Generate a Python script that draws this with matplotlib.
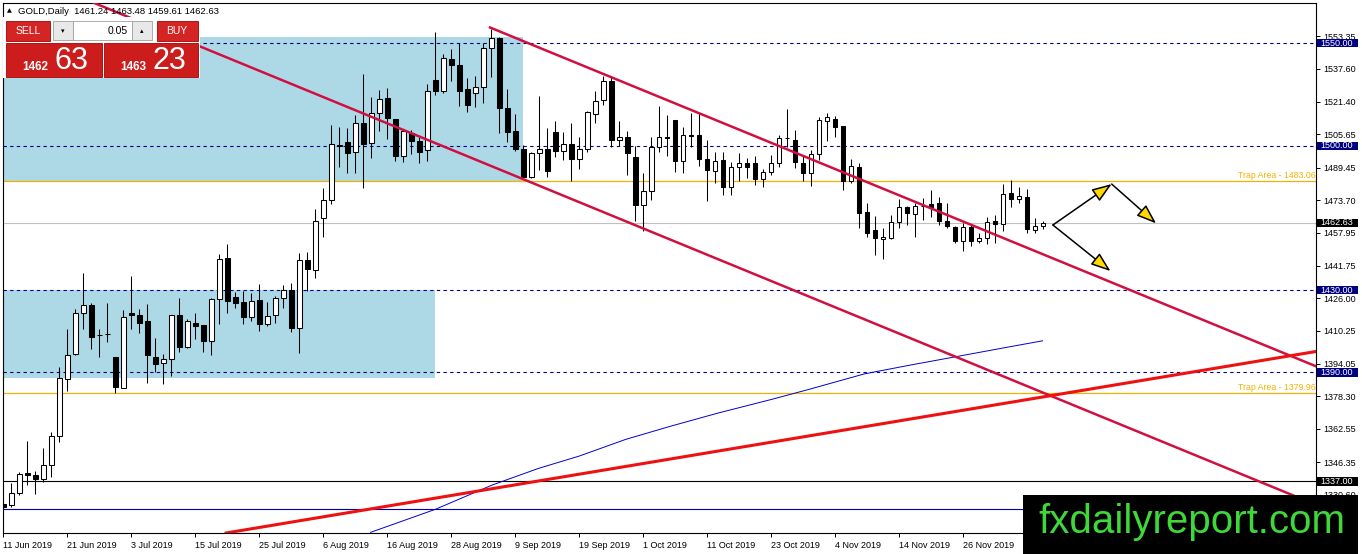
import numpy as np
import matplotlib
matplotlib.use("Agg")
import matplotlib.pyplot as plt
from matplotlib.patches import Rectangle

plt.rcParams['font.family'] = ['Liberation Sans', 'DejaVu Sans']

# GOLD daily candles, 11 Jun 2019 .. 10 Dec 2019
opens = [1325.8, 1325.5, 1331.3, 1341.0, 1340.0, 1338.1, 1344.9, 1359.0, 1386.7, 1398.9,
         1418.8, 1422.7, 1408.1, 1408.6, 1397.4, 1382.4, 1418.8, 1417.8, 1414.9, 1397.4,
         1394.5, 1396.4, 1417.8, 1402.3, 1414.0, 1413.0, 1405.2, 1425.6, 1445.6, 1426.6,
         1424.2, 1416.9, 1425.1, 1413.5, 1417.8, 1426.1, 1430.0, 1411.5, 1444.6, 1439.7,
         1465.0, 1473.7, 1500.5, 1501.9, 1497.1, 1511.2, 1501.5, 1516.0, 1523.3, 1513.1,
         1495.1, 1506.3, 1502.4, 1498.1, 1532.1, 1526.7, 1542.3, 1539.4, 1527.7, 1525.8,
         1528.7, 1547.6, 1552.5, 1518.5, 1507.3, 1498.5, 1484.9, 1496.6, 1498.5, 1506.8,
         1497.6, 1501.0, 1493.7, 1498.5, 1515.6, 1522.4, 1531.6, 1502.9, 1504.4, 1494.7,
         1471.3, 1478.1, 1499.5, 1504.4, 1512.6, 1492.7, 1505.3, 1505.3, 1493.7, 1487.8,
         1493.2, 1480.1, 1489.8, 1491.7, 1491.7, 1484.0, 1487.4, 1491.7, 1503.9, 1502.9,
         1491.7, 1486.9, 1496.1, 1512.2, 1513.1, 1509.7, 1483.0, 1489.8, 1467.9, 1459.2,
         1454.8, 1455.3, 1463.1, 1470.3, 1466.9, 1470.8, 1471.8, 1472.3, 1463.5, 1460.6,
         1453.8, 1460.6, 1453.8, 1455.3, 1463.5, 1462.1, 1477.2, 1474.2, 1475.2, 1459.2,
         1461.24]
highs = [1329.4, 1336.2, 1341.5, 1356.6, 1342.0, 1353.2, 1361.0, 1392.6, 1411.0, 1420.8,
         1438.3, 1423.7, 1411.0, 1423.7, 1397.6, 1420.3, 1436.8, 1420.8, 1423.2, 1406.7,
         1398.9, 1418.0, 1426.1, 1415.9, 1418.8, 1413.2, 1426.1, 1447.5, 1452.4, 1429.0,
         1429.5, 1428.5, 1432.9, 1424.2, 1427.1, 1432.4, 1433.4, 1448.0, 1448.5, 1469.4,
         1479.6, 1510.2, 1509.2, 1508.8, 1515.1, 1535.0, 1523.8, 1527.2, 1528.2, 1513.3,
         1508.3, 1507.8, 1504.4, 1530.1, 1555.4, 1544.7, 1547.2, 1550.1, 1533.1, 1534.0,
         1550.1, 1557.0, 1553.0, 1527.7, 1515.6, 1500.5, 1497.1, 1524.3, 1508.8, 1512.2,
         1506.8, 1511.2, 1504.4, 1517.0, 1526.7, 1534.0, 1534.0, 1512.2, 1507.3, 1500.0,
         1486.9, 1504.4, 1519.4, 1515.1, 1512.8, 1509.2, 1516.0, 1516.0, 1502.9, 1497.1,
         1497.1, 1492.2, 1496.6, 1494.2, 1495.1, 1488.8, 1495.6, 1505.3, 1518.0, 1507.8,
         1495.6, 1498.1, 1514.1, 1516.0, 1514.6, 1509.7, 1493.7, 1491.7, 1472.3, 1466.0,
         1460.1, 1466.5, 1474.2, 1470.8, 1472.3, 1474.7, 1478.6, 1475.2, 1472.3, 1461.1,
         1462.6, 1461.6, 1457.7, 1465.5, 1466.5, 1481.5, 1483.5, 1480.1, 1479.1, 1465.0,
         1463.48]
lows = [1313.5, 1324.5, 1330.3, 1335.2, 1330.8, 1336.7, 1339.1, 1356.1, 1380.9, 1398.5,
        1411.0, 1401.3, 1397.4, 1404.7, 1379.9, 1382.2, 1411.0, 1409.1, 1384.8, 1390.1,
        1384.3, 1388.2, 1399.9, 1401.8, 1406.2, 1399.9, 1398.4, 1413.5, 1418.8, 1421.2,
        1413.5, 1414.9, 1410.1, 1412.5, 1414.0, 1421.2, 1409.6, 1399.4, 1429.5, 1435.8,
        1455.8, 1471.8, 1489.8, 1486.9, 1486.9, 1479.6, 1494.2, 1507.3, 1503.4, 1492.7,
        1492.2, 1496.1, 1491.7, 1492.7, 1524.8, 1525.8, 1531.6, 1519.4, 1516.5, 1519.0,
        1520.9, 1533.5, 1506.3, 1501.9, 1497.6, 1484.4, 1484.6, 1488.3, 1484.9, 1494.7,
        1493.2, 1483.0, 1488.8, 1497.1, 1511.2, 1519.9, 1499.5, 1500.0, 1485.9, 1463.5,
        1458.7, 1473.7, 1497.1, 1495.1, 1487.4, 1486.9, 1499.5, 1490.3, 1473.3, 1482.0,
        1476.2, 1476.2, 1483.0, 1484.4, 1481.0, 1480.1, 1485.9, 1489.8, 1499.5, 1489.3,
        1483.0, 1480.6, 1493.2, 1502.4, 1504.4, 1478.6, 1482.0, 1460.1, 1455.8, 1447.0,
        1445.1, 1454.8, 1460.1, 1461.6, 1455.8, 1464.0, 1465.5, 1461.6, 1460.1, 1452.8,
        1449.0, 1451.4, 1452.8, 1452.4, 1452.8, 1458.7, 1470.3, 1472.3, 1457.7, 1457.7,
        1459.61]
closes = [1324.6, 1331.3, 1340.5, 1340.0, 1338.1, 1344.9, 1359.0, 1387.2, 1398.4, 1418.8,
          1422.7, 1407.1, 1407.9, 1408.8, 1382.8, 1416.9, 1417.8, 1414.0, 1398.4, 1394.0,
          1396.4, 1417.8, 1402.3, 1414.9, 1412.5, 1405.2, 1425.6, 1445.1, 1424.6, 1423.7,
          1416.9, 1424.6, 1413.5, 1417.4, 1426.1, 1430.0, 1411.5, 1444.6, 1440.2, 1463.5,
          1473.7, 1501.0, 1500.2, 1496.6, 1511.2, 1501.0, 1516.0, 1522.8, 1513.6, 1495.1,
          1507.3, 1502.4, 1497.1, 1526.7, 1526.7, 1542.8, 1539.4, 1526.7, 1519.9, 1528.7,
          1547.6, 1552.5, 1518.5, 1506.8, 1498.5, 1484.9, 1496.6, 1498.5, 1487.8, 1497.6,
          1501.0, 1493.7, 1498.5, 1516.5, 1521.9, 1531.6, 1502.9, 1504.4, 1496.6, 1471.3,
          1478.1, 1499.5, 1504.4, 1504.1, 1492.7, 1505.3, 1505.1, 1493.7, 1488.3, 1492.7,
          1480.1, 1489.8, 1491.7, 1489.8, 1484.0, 1487.4, 1491.7, 1503.9, 1504.1, 1492.2,
          1486.9, 1496.1, 1512.6, 1514.1, 1509.2, 1483.0, 1490.3, 1467.4, 1457.7, 1455.3,
          1455.8, 1463.1, 1470.3, 1467.4, 1470.8, 1470.6, 1470.3, 1463.5, 1461.1, 1453.8,
          1460.6, 1453.8, 1455.3, 1463.1, 1462.1, 1476.7, 1474.2, 1475.7, 1459.6, 1461.1,
          1462.63]

date_labels = ["11 Jun 2019", "21 Jun 2019", "3 Jul 2019", "15 Jul 2019", "25 Jul 2019",
               "6 Aug 2019", "16 Aug 2019", "28 Aug 2019", "9 Sep 2019", "19 Sep 2019",
               "1 Oct 2019", "11 Oct 2019", "23 Oct 2019", "4 Nov 2019", "14 Nov 2019",
               "26 Nov 2019"]
date_bars = [0, 8, 16, 24, 32, 40, 48, 56, 64, 72, 80, 88, 96, 104, 112, 120]

price_ticks = [1553.35, 1537.60, 1521.40, 1505.65, 1489.45, 1473.70, 1457.95, 1441.75,
               1426.00, 1410.25, 1394.05, 1378.30, 1362.55, 1346.35, 1330.60]

# moving average (blue curve)
ma_bars = [45.9, 54.0, 61.1, 66.9, 72.0, 77.8, 83.5, 89.25, 96.1, 100.7, 107.6, 113.35, 119.1, 124.8, 129.9]
ma_vals = [1312.2, 1323.4, 1335.2, 1343.3, 1349.3, 1357.4, 1363.9, 1370.1, 1376.9, 1381.7,
           1389.2, 1393.5, 1397.6, 1401.7, 1405.3]

# horizontal levels
dashed_levels = [1550.0, 1500.0, 1430.0, 1390.0]
trap_levels = [1483.06, 1379.96]
current_price = 1462.63
black_level = 1337.00
blue_level = 1323.4

# zones (right bar edge, low, high)
zones = [(64.9, 1483.06, 1552.8), (53.9, 1387.1, 1430.0)]

# trend lines
upper_channel = [(60.84, 1557.6), (130.0, 1447.3)]
lower_channel = [(34.6, 1532.4), (80.0, 1459.9)]
support_line = [(64.6, 1335.7), (164.2, 1400.2)]

# scenario arrows
arrow_start = (131.2, 1461.6)
arrow_up = (138.55, 1481.5)
arrow_after = (144.1, 1462.4)
arrow_down = (138.4, 1439.2)

W, H = 1362, 554
fig = plt.figure(figsize=(W / 100, H / 100), dpi=100)
ax = fig.add_axes([3 / W, 21 / H, 1313 / W, 530 / H])
ax.set_xlim(-0.04, 164.09)
ax.set_ylim(1311.9, 1569.5)

navy = '#000080'
gold = '#f2b300'
crimson = '#d01040'

for lo, hi in [(z[1], z[2]) for z in zones]:
    pass
for right, lo, hi in zones:
    ax.add_patch(Rectangle((-5, lo), right + 5, hi - lo, fc='#add8e6', ec='none', zorder=1))

for lv in dashed_levels:
    ax.axhline(lv, color=navy, lw=0.8, ls=(0, (3, 3)), zorder=2)
for lv in trap_levels:
    ax.axhline(lv, color=gold, lw=0.9, zorder=2)
    ax.text(164.0, lv + 0.5, f"Trap Area - {lv:.2f}", color=gold, fontsize=6.3,
            ha='right', va='bottom', zorder=2)
ax.axhline(current_price, color='#c0c0c0', lw=0.8, zorder=2)
ax.axhline(black_level, color='black', lw=0.8, zorder=2)
ax.axhline(blue_level, color='#0000a8', lw=0.8, zorder=2)

ax.plot(ma_bars, ma_vals, color='#0000cc', lw=0.7, zorder=2.5)

# candles
x = np.arange(len(closes))
o = np.array(opens); c = np.array(closes)
ax.vlines(x, lows, highs, color='black', lw=0.75, zorder=3)
up = c >= o
body_lo = np.minimum(o, c)
body_h = np.maximum(np.abs(c - o), 0.05)
ax.bar(x[up], body_h[up], bottom=body_lo[up], width=0.55, color='white',
       edgecolor='black', lw=0.75, zorder=3.5)
ax.bar(x[~up], body_h[~up], bottom=body_lo[~up], width=0.55, color='black',
       edgecolor='black', lw=0.75, zorder=3.5)

# trend lines
(x0, y0), (x1, y1) = upper_channel
slope = (y1 - y0) / (x1 - x0)
xr = 170
ax.plot([x0, xr], [y0, y0 + slope * (xr - x0)], color=crimson, lw=1.8, zorder=4)
ax.axline(lower_channel[0], lower_channel[1], color=crimson, lw=1.8, zorder=4)
ax.axline(support_line[0], support_line[1], color='#ee1111', lw=2.2, zorder=4)

# arrows
for a, b in [(arrow_start, arrow_up), (arrow_up, arrow_after), (arrow_start, arrow_down)]:
    ax.annotate('', xy=b, xytext=a, zorder=6,
                arrowprops=dict(arrowstyle='-|>,head_length=1.1,head_width=0.4',
                                mutation_scale=11, fc='#ffd800', ec='black', lw=1.1,
                                shrinkA=0, shrinkB=0))

# axes styling
for s in ax.spines.values():
    s.set_linewidth(0.8)
ax.set_yticks(price_ticks)
ax.set_yticklabels([f"{t:.2f}" for t in price_ticks])
ax.yaxis.tick_right()
ax.tick_params(axis='y', length=3, width=0.7, pad=2, labelsize=6.5)
ax.set_xticks(date_bars)
ax.set_xticklabels(date_labels)
for lab in ax.get_xticklabels():
    lab.set_ha('left')
ax.tick_params(axis='x', length=3, width=0.7, pad=3, labelsize=6.5)

# price label boxes on the right axis
ytr = ax.get_yaxis_transform()
box_h = 4.1
for lv, fc in [(1550.0, navy), (1500.0, navy), (1430.0, navy), (1390.0, navy),
               (current_price, 'black'), (black_level, 'black')]:
    ax.add_patch(Rectangle((1.0011, lv - box_h / 2), 0.0311, box_h, transform=ytr,
                           fc=fc, ec='none', clip_on=False, zorder=20))
    ax.text(1.0035, lv, f"{lv:.2f}", transform=ytr, color='white', fontsize=6.5,
            ha='left', va='center', clip_on=False, zorder=21)

# overlay: trade panel, header, watermark (pixel coordinates)
ov = fig.add_axes([0, 0, 1, 1])
ov.set_xlim(0, W)
ov.set_ylim(H, 0)
ov.axis('off')
ov.set_zorder(5)

ov.text(7, 11, "\u25b2", fontsize=4.5, va='center', ha='left', family=['DejaVu Sans'])
ov.text(18, 11, "GOLD,Daily  1461.24 1463.48 1459.61 1462.63", fontsize=6.8,
        va='center', ha='left')

ov.add_patch(Rectangle((3, 17), 197, 61, fc='white', ec='none'))
red_btn = '#d42424'
red_big = '#cc1c1c'
ov.add_patch(Rectangle((6, 20.5), 44, 20.5, fc=red_btn, ec='#a80000', lw=0.6))
ov.add_patch(Rectangle((157, 20.5), 41, 20.5, fc=red_btn, ec='#a80000', lw=0.6))
ov.text(28, 31, "SELL", color='white', fontsize=7.5, ha='center', va='center')
ov.text(177, 31, "BUY", color='white', fontsize=7.5, ha='center', va='center')
ov.add_patch(Rectangle((53, 21), 20, 19, fc='#e8e8e8', ec='#a0a0a0', lw=0.6))
ov.add_patch(Rectangle((132, 21), 20, 19, fc='#e8e8e8', ec='#a0a0a0', lw=0.6))
ov.add_patch(Rectangle((73, 21), 59, 19, fc='white', ec='#a0a0a0', lw=0.6))
ov.text(63, 31, "\u25be", fontsize=5, ha='center', va='center', family=['DejaVu Sans'])
ov.text(142, 31, "\u25b4", fontsize=5, ha='center', va='center', family=['DejaVu Sans'])
ov.text(128, 31, "0.05", fontsize=7.5, ha='right', va='center')
ov.add_patch(Rectangle((6, 42.5), 96, 34.5, fc=red_big, ec='#a80000', lw=0.6))
ov.add_patch(Rectangle((104, 42.5), 94, 34.5, fc=red_big, ec='#a80000', lw=0.6))
ov.text(22, 70, "1462", color='white', fontsize=8.5, fontweight='bold', ha='left', va='baseline')
ov.text(54, 69, "63", color='white', fontsize=22, ha='left', va='baseline')
ov.text(120, 70, "1463", color='white', fontsize=8.5, fontweight='bold', ha='left', va='baseline')
ov.text(153, 69, "23", color='white', fontsize=22, ha='left', va='baseline')

ov.add_patch(Rectangle((1023, 495), 335, 59, fc='black', ec='none'))
ov.text(1038, 533, "fxdailyreport.com", color='#3fd83a', fontsize=29,
        ha='left', va='baseline', family=['Liberation Sans'])

fig.savefig("out.png", dpi=100, facecolor='white')
